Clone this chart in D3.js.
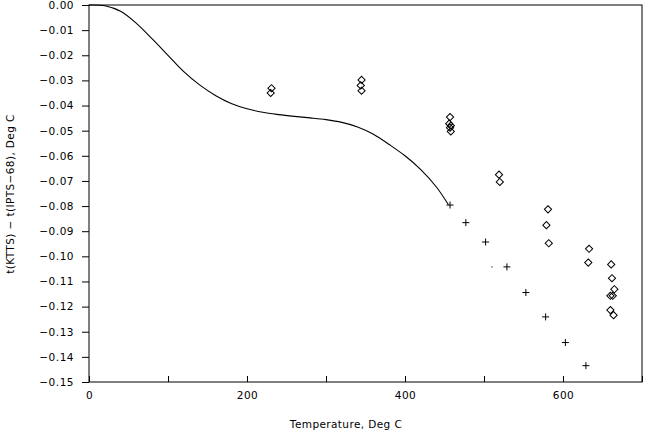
<!DOCTYPE html>
<html>
<head>
<meta charset="utf-8">
<script src="https://cdn.jsdelivr.net/npm/d3@7/dist/d3.min.js"></script>
<style>
  body { margin: 0; background: #fff; }
  svg { display: block; }
  text { font-family: "DejaVu Sans", sans-serif; fill: #000; }
</style>
</head>
<body>
<div id="chart"></div>
<script>
// smooth curve (temperature, deviation)
var curveT = [0, 20, 40, 60, 80, 100, 120, 140, 160, 180, 200, 220, 240, 260, 280, 300, 320, 340, 360, 380, 400, 420, 440, 455];
var curveV = [0, -0.0003, -0.0025, -0.0073, -0.0135, -0.0200, -0.0265, -0.0318, -0.0360, -0.0392, -0.0413, -0.0427, -0.0436, -0.0443, -0.0449, -0.0456, -0.0467, -0.0485, -0.0514, -0.0555, -0.0600, -0.0655, -0.0725, -0.0795];

// diamond points
var diamondT = [231, 230, 345, 344, 345, 457, 456, 458, 457, 458, 519, 520, 581, 579, 582, 633, 632, 661, 662, 665, 660, 663, 660, 664];
var diamondV = [-0.0331, -0.0350, -0.0298, -0.0320, -0.0341, -0.0446, -0.0472, -0.0480, -0.0488, -0.0503, -0.0675, -0.0704, -0.0813, -0.0876, -0.0948, -0.0970, -0.1025, -0.1032, -0.1087, -0.1131, -0.1157, -0.1157, -0.1214, -0.1234];

// plus points
var plusT = [457, 477, 502, 529, 553, 578, 603, 629];
var plusV = [-0.0796, -0.0866, -0.0943, -0.1042, -0.1144, -0.1241, -0.1343, -0.1435];

// stray dot
var dotT = [510];
var dotV = [-0.1042];

var xTicks = [0, 100, 200, 300, 400, 500, 600, 700];
var xLabels = [0, 200, 400, 600];
var yTicks = d3.range(0, 16).map(function (i) { return -i / 100; });

var width = 645, height = 435;
var margin = { left: 89, right: 3, top: 5, bottom: 53 };

var svg = d3.select("#chart").append("svg")
    .attr("width", width)
    .attr("height", height);

var x = d3.scaleLinear().domain([0, 700]).range([margin.left, width - margin.right]);
var y = d3.scaleLinear().domain([-0.15, 0]).range([height - margin.bottom, margin.top]);

// frame
svg.append("rect")
    .attr("x", x(0))
    .attr("y", y(0))
    .attr("width", x(700) - x(0))
    .attr("height", y(-0.15) - y(0))
    .attr("fill", "none")
    .attr("stroke", "#000")
    .attr("stroke-width", 1);

// y axis
var yAxis = svg.append("g")
    .attr("transform", "translate(" + x(0) + ",0)")
    .call(d3.axisLeft(y).tickValues(yTicks).tickSize(7).tickPadding(8)
        .tickFormat(function (d) { return d === 0 ? "0.00" : d3.format(".2f")(d).replace("-", "\u2212"); }));
yAxis.select(".domain").remove();
yAxis.selectAll("text").attr("font-size", 10.5).attr("letter-spacing", 0.5)
    .style("font-family", "DejaVu Sans, sans-serif");

// x axis
var xAxis = svg.append("g")
    .attr("transform", "translate(0," + y(-0.15) + ")")
    .call(d3.axisBottom(x).tickValues(xTicks).tickSizeInner(-6).tickSizeOuter(0).tickPadding(10)
        .tickFormat(function (d) { return xLabels.indexOf(d) >= 0 ? d : ""; }));
xAxis.select(".domain").remove();
xAxis.selectAll("text").attr("font-size", 10.5).attr("letter-spacing", 0.5)
    .style("font-family", "DejaVu Sans, sans-serif");

// axis titles
svg.append("text")
    .attr("x", 346)
    .attr("y", 428)
    .attr("text-anchor", "middle")
    .attr("font-size", 10.5)
    .attr("letter-spacing", 0.4)
    .text("Temperature, Deg C");

svg.append("text")
    .attr("transform", "translate(14,194) rotate(-90)")
    .attr("text-anchor", "middle")
    .attr("font-size", 10.5)
    .attr("letter-spacing", 0.4)
    .text("t(KTTS) \u2212 t(IPTS\u221268), Deg C");

// curve
var line = d3.line()
    .x(function (d) { return x(d[0]); })
    .y(function (d) { return y(d[1]); })
    .curve(d3.curveCatmullRom.alpha(0.5));

svg.append("path")
    .datum(curveT.map(function (t, i) { return [t, curveV[i]]; }))
    .attr("d", line)
    .attr("fill", "none")
    .attr("stroke", "#000")
    .attr("stroke-width", 1.1);

// diamonds
var diamond = d3.symbol().type(d3.symbolSquare).size(26);
svg.append("g").selectAll("path")
    .data(diamondT.map(function (t, i) { return [t, diamondV[i]]; }))
    .enter().append("path")
    .attr("d", diamond)
    .attr("transform", function (d) { return "translate(" + x(d[0]) + "," + y(d[1]) + ") rotate(45)"; })
    .attr("fill", "none")
    .attr("stroke", "#000")
    .attr("stroke-width", 1);

// plus markers
var plus = svg.append("g").selectAll("g")
    .data(plusT.map(function (t, i) { return [t, plusV[i]]; }))
    .enter().append("g")
    .attr("transform", function (d) { return "translate(" + x(d[0]) + "," + y(d[1]) + ")"; });
plus.append("line").attr("x1", -3.5).attr("x2", 3.5).attr("stroke", "#000").attr("stroke-width", 1);
plus.append("line").attr("y1", -3.5).attr("y2", 3.5).attr("stroke", "#000").attr("stroke-width", 1);

// stray dot
svg.append("g").selectAll("circle")
    .data(dotT.map(function (t, i) { return [t, dotV[i]]; }))
    .enter().append("circle")
    .attr("cx", function (d) { return x(d[0]); })
    .attr("cy", function (d) { return y(d[1]); })
    .attr("r", 0.6)
    .attr("fill", "#000");
</script>
</body>
</html>
